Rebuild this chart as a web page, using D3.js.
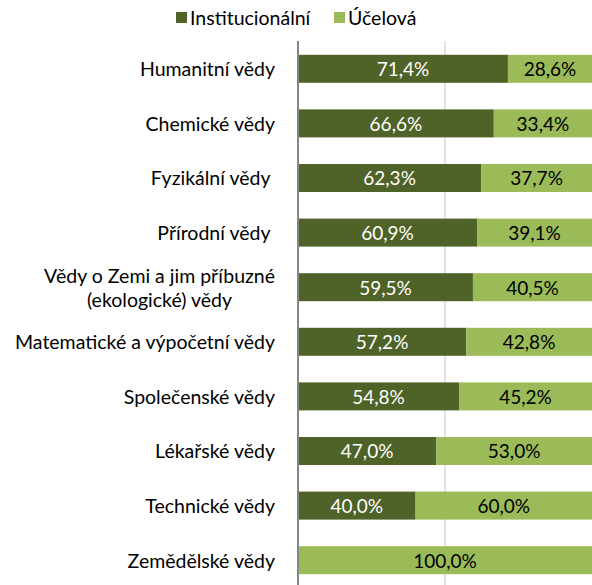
<!DOCTYPE html>
<html>
<head>
<meta charset="utf-8">
<script src="https://cdn.jsdelivr.net/npm/d3@7"></script>
<style>
  body { margin: 0; background: white; }
  text { font-family: Lato, "Open Sans", sans-serif; white-space: pre; }
</style>
</head>
<body>
<div id="container"></div>
<script>
let categories = [
  ["Humanitní vědy"],
  ["Chemické vědy"],
  ["Fyzikální vědy "],
  ["Přírodní vědy "],
  ["Vědy o Zemi a jim příbuzné", "(ekologické) vědy"],
  ["Matematické a výpočetní vědy"],
  ["Společenské vědy"],
  ["Lékařské vědy"],
  ["Technické vědy"],
  ["Zemědělské vědy"]
];
let institucionalni = [71.4, 66.6, 62.3, 60.9, 59.5, 57.2, 54.8, 47.0, 40.0, 0];
let ucelova = [28.6, 33.4, 37.7, 39.1, 40.5, 42.8, 45.2, 53.0, 60.0, 100.0];
let seriesNames = ["Institucionální", "Účelová"];
let colors = ["#4f6228", "#9bbb59"];
let textColors = ["#ffffff", "#000000"];

let w = 592;
let h = 585;

let viz = d3.select("#container")
  .append("svg")
    .attr("width", w)
    .attr("height", h)
    .style("background-color", "white")
;

let xScale = d3.scaleLinear().domain([0, 100]).range([298, 592]);
let yScale = d3.scaleBand().domain(d3.range(categories.length)).range([41.5, 587.5]).paddingInner(0.487).paddingOuter(0.2435);

// gridline at 50%
viz.append("line")
  .attr("x1", xScale(50)).attr("x2", xScale(50))
  .attr("y1", 41).attr("y2", h)
  .attr("stroke", "#d9d9d9")
  .attr("stroke-width", 1.5)
;

let rows = categories.map(function(c, i){
  return {label: c, values: [institucionalni[i], ucelova[i]]};
});

let groups = viz.selectAll(".datagroup").data(rows).enter()
  .append("g")
    .classed("datagroup", true)
    .attr("transform", function(d, i){ return "translate(0," + yScale(i) + ")"; })
;

groups.each(function(d, i){
  let g = d3.select(this);
  let start = 0;
  d.values.forEach(function(v, k){
    if (v > 0) {
      g.append("rect")
        .attr("x", xScale(start))
        .attr("y", 0)
        .attr("width", xScale(start + v) - xScale(start))
        .attr("height", yScale.bandwidth())
        .attr("fill", colors[k])
      ;
      g.append("text")
        .text(v.toFixed(1).replace(".", ",") + "%")
        .attr("x", (xScale(start) + xScale(start + v)) / 2)
        .attr("y", yScale.bandwidth() / 2)
        .attr("text-anchor", "middle")
        .attr("dominant-baseline", "central")
        .style("font-size", "19px")
        .attr("fill", textColors[k])
      ;
    }
    start += v;
  });

  // multi-line labels are centred as a block, right-aligned at 275
  let n = d.label.length;
  let labels = d.label.map(function(line, j){
    return g.append("text")
      .text(line)
      .attr("y", yScale.bandwidth() / 2 + (j - (n - 1) / 2) * 24)
      .attr("dominant-baseline", "central")
      .style("font-size", "19.5px")
      .attr("fill", "#000")
    ;
  });
  let maxW = d3.max(labels, function(t){ return t.node().getComputedTextLength(); });
  labels.forEach(function(t){
    if (n > 1) {
      t.attr("x", 275 - maxW / 2).attr("text-anchor", "middle");
    } else {
      t.attr("x", 275).attr("text-anchor", "end");
    }
  });
});

// vertical axis line
viz.append("line")
  .attr("x1", xScale(0)).attr("x2", xScale(0))
  .attr("y1", 41).attr("y2", h)
  .attr("stroke", "#868686")
  .attr("stroke-width", 2)
;

// legend
let legend = viz.append("g").attr("transform", "translate(0,17)");
let legendX = [176, 334];
seriesNames.forEach(function(name, k){
  legend.append("rect")
    .attr("x", legendX[k]).attr("y", -5)
    .attr("width", 11).attr("height", 11)
    .attr("fill", colors[k]);
  legend.append("text")
    .text(name)
    .attr("x", legendX[k] + 14)
    .attr("y", 0)
    .attr("dominant-baseline", "central")
    .style("font-size", "19.5px")
    .attr("fill", "#000");
});
</script>
</body>
</html>
